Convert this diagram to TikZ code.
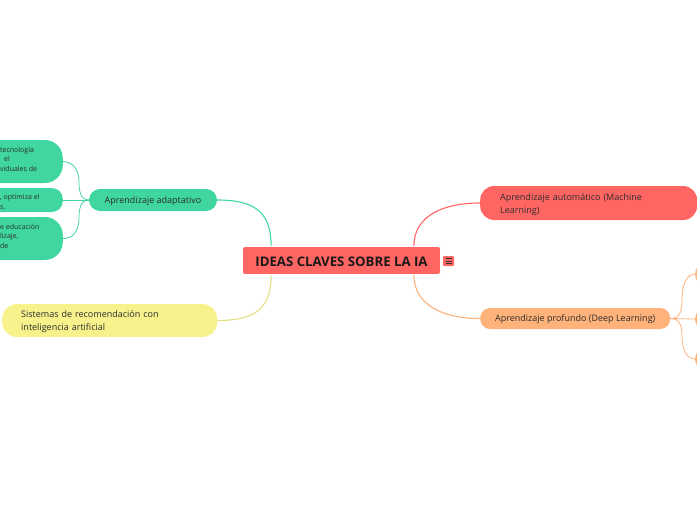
\documentclass[tikz,border=0pt]{standalone}
\usepackage{fontspec}
\setmainfont{Open Sans}
\definecolor{cred}{RGB}{255,102,99}
\definecolor{corange}{RGB}{255,178,122}
\definecolor{cyellow}{RGB}{247,242,140}
\definecolor{cgreen}{RGB}{64,214,160}
\definecolor{ctext}{RGB}{45,45,45}
\newcommand\lowr[2][1.5pt]{\raisebox{-#1}[\height][\depth]{#2}}
\begin{document}
\begin{tikzpicture}[x=1pt,y=-1pt,
  topic/.style={inner sep=0pt, text=ctext, font=\fontsize{9}{13}\selectfont},
  subtxt/.style={inner sep=0pt, anchor=west, align=left, text=ctext, font=\fontsize{7}{9.6}\selectfont},
  link/.style={line width=1.1pt},
  sublink/.style={line width=0.8pt}]
\useasboundingbox (0,0) rectangle (697,520);
\clip (0,0) rectangle (697,520);

% central
\node[fill=cred, draw=white, line width=0.8pt, rounded corners=2.5pt, minimum width=198pt, minimum height=28pt,
      inner sep=0pt, font=\bfseries\fontsize{13.2}{15}\selectfont, text=black!90] (root) at (341.5,260.5) {\lowr[1pt]{IDEAS CLAVES SOBRE LA IA}};
\node[fill=cred, rounded corners=1pt, minimum width=11pt, minimum height=10pt, inner sep=0pt] (icon) at (448.5,261) {};
\draw[black!80, line width=0.6pt] ([xshift=-3pt,yshift=-2.3pt]icon.center) -- ([xshift=3pt,yshift=-2.3pt]icon.center)
  ([xshift=-3pt]icon.center) -- ([xshift=3pt]icon.center)
  ([xshift=-3pt,yshift=2.3pt]icon.center) -- ([xshift=3pt,yshift=2.3pt]icon.center);

% right topics
\node[topic, fill=cred, rounded corners=14pt, anchor=west, minimum height=34pt, text width=177pt,
      inner xsep=20pt, align=left] (ml) at (480,203) {\lowr[1.5pt]{Aprendizaje automático (Machine}\\\lowr[1.5pt]{Learning)}};
\node[topic, fill=corange, rounded corners=10pt, anchor=west, minimum height=21pt, minimum width=190pt] (dl) at (480,318.5) {\lowr[0.8pt]{Aprendizaje profundo (Deep Learning)}};

% right (cut) children
\node[fill=corange, rounded corners=9pt, anchor=west, minimum height=20pt, minimum width=60pt, inner sep=0pt] (r1) at (695,274) {};
\node[fill=corange, rounded corners=9pt, anchor=west, minimum height=20pt, minimum width=60pt, inner sep=0pt] (r2) at (695,319) {};
\node[fill=corange, rounded corners=9pt, anchor=west, minimum height=20pt, minimum width=60pt, inner sep=0pt] (r3) at (695,359) {};

% left topics
\node[topic, fill=cgreen, rounded corners=11pt, minimum height=22pt, minimum width=128pt] (aa) at (153,200) {\lowr[0.8pt]{Aprendizaje adaptativo}};
\node[topic, fill=cyellow, rounded corners=15pt, anchor=west, minimum height=33pt, text width=177pt,
      inner xsep=19pt, align=left] (sis) at (2,320.5) {\lowr[1.5pt]{Sistemas de recomendación con}\\\lowr[1.5pt]{inteligencia artificial}};

% left (cut) children
\node[fill=cgreen, rounded corners=18pt, anchor=east, minimum height=43pt, minimum width=180pt, inner sep=0pt] (c1) at (63,161.5) {};
\node[fill=cgreen, rounded corners=11pt, anchor=east, minimum height=24pt, minimum width=180pt, inner sep=0pt] (c2) at (63,200) {};
\node[fill=cgreen, rounded corners=18pt, anchor=east, minimum height=43pt, minimum width=180pt, inner sep=0pt] (c3) at (63,238.5) {};
\node[subtxt] (t1) at (0,159) {tecnología\\\hspace*{4pt}el\\viduales de};
\node[subtxt] (t2) at (0,202) {, optimiza el\\s.};
\node[subtxt] (t3) at (0,236) {e educación\\lizaje,\\de};

% connectors
\draw[link, cred] ([xshift=-27pt]root.north east) .. controls +(0,-32) and +(-34,0) .. (ml.west);
\draw[link, corange] ([xshift=-27pt]root.south east) .. controls +(0,32) and +(-34,0) .. (dl.west);
\draw[link, cgreen] ([xshift=29pt]root.north west) .. controls +(0,-32) and +(40,0) .. (aa.east);
\draw[link, cyellow!92!black] ([xshift=29pt]root.south west) .. controls +(0,32) and +(40,0) .. (sis.east);

\draw[sublink, cgreen] (aa.west) -- (c2.east);
\draw[sublink, cgreen] (aa.west) .. controls (81,200) and (79,192) .. (79,182) .. controls (79,168) and (72,162) .. (c1.east);
\draw[sublink, cgreen] (aa.west) .. controls (81,200) and (79,208) .. (79,218) .. controls (79,232) and (72,239) .. (c3.east);

\draw[sublink, corange] (dl.east) -- (r2.west);
\draw[sublink, corange] (dl.east) .. controls (680,318.5) and (682,311) .. (682,300) .. controls (682,282) and (688,274) .. (r1.west);
\draw[sublink, corange] (dl.east) .. controls (680,318.5) and (682,326) .. (682,336) .. controls (682,352) and (688,359) .. (r3.west);
\end{tikzpicture}
\end{document}
